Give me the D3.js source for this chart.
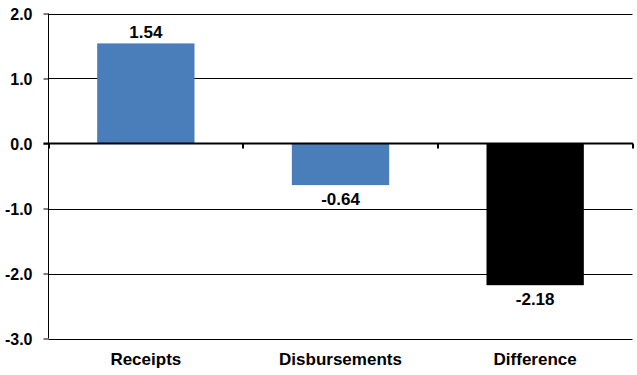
<!DOCTYPE html>
<html lang="en">
<head>
<meta charset="utf-8">
<title>Receipts vs Disbursements</title>
<script src="https://d3js.org/d3.v7.min.js"></script>
<style>
  body { margin: 0; background: #fff; }
  text { font-family: Arial, "Liberation Sans", sans-serif; font-weight: bold; fill: #000; }
</style>
</head>
<body>
<script>
// chart data
const categories = ["Receipts", "Disbursements", "Difference"];
const values = [1.54, -0.64, -2.18];
const barColors = ["#4a7ebb", "#4a7ebb", "#000000"];
const yTicks = [-3, -2, -1, 0, 1, 2];

const width = 637, height = 375;
const plotLeft = 48.5, plotRight = 632.5, plotTop = 13.5, plotBottom = 338.5;

const svg = d3.select("body").append("svg")
  .attr("width", width)
  .attr("height", height);

const x = d3.scaleBand().domain(categories).range([plotLeft, plotRight])
  .paddingInner(0.5).paddingOuter(0.25);
const y = d3.scaleLinear().domain([-3, 2]).range([plotBottom, plotTop]);

// gridlines
svg.append("g").selectAll("line")
  .data(yTicks.filter(d => d !== 0))
  .enter().append("line")
  .attr("x1", plotLeft).attr("x2", plotRight)
  .attr("y1", d => Math.round(y(d)) + 0.5).attr("y2", d => Math.round(y(d)) + 0.5)
  .attr("stroke", "#000").attr("stroke-width", 1);

// y axis (hyphen instead of unicode minus, like the original)
const yAxis = d3.axisLeft(y).tickValues(yTicks).tickSize(5)
  .tickFormat(d => d.toFixed(1));
const gy = svg.append("g").attr("transform", "translate(" + plotLeft + ",0)").call(yAxis);
gy.select(".domain").remove();
gy.selectAll(".tick line").attr("stroke", "#000");
gy.selectAll(".tick text").attr("font-size", 16).attr("x", -16).attr("dy", "0.36em")
  .style("font-family", "Arial, 'Liberation Sans', sans-serif").style("font-weight", "bold");
svg.append("line")
  .attr("x1", plotLeft).attr("x2", plotLeft).attr("y1", plotTop).attr("y2", plotBottom)
  .attr("stroke", "#000");

// bars
svg.append("g").selectAll("rect")
  .data(values)
  .enter().append("rect")
  .attr("x", (d, i) => x(categories[i]))
  .attr("width", x.bandwidth())
  .attr("y", d => y(Math.max(0, d)))
  .attr("height", d => Math.abs(y(d) - y(0)))
  .attr("fill", (d, i) => barColors[i]);

// zero line with category separators
const zeroY = y(0);
svg.append("line")
  .attr("x1", plotLeft - 5).attr("x2", plotRight + 0.5)
  .attr("y1", zeroY).attr("y2", zeroY)
  .attr("stroke", "#000").attr("stroke-width", 2);
const bounds = categories.map(c => x(c) - x.step() * 0.25).concat([plotRight]);
svg.append("g").selectAll("line")
  .data(bounds)
  .enter().append("line")
  .attr("x1", d => Math.round(d)).attr("x2", d => Math.round(d))
  .attr("y1", zeroY).attr("y2", zeroY + 5)
  .attr("stroke", "#000").attr("stroke-width", 2);

// value labels
svg.append("g").selectAll("text")
  .data(values)
  .enter().append("text")
  .attr("x", (d, i) => x(categories[i]) + x.bandwidth() / 2)
  .attr("y", d => d >= 0 ? y(d) - 5 : y(d) + 20)
  .attr("text-anchor", "middle")
  .attr("font-size", 17)
  .text(d => d.toFixed(2));

// category labels
svg.append("g").selectAll("text")
  .data(categories)
  .enter().append("text")
  .attr("x", d => x(d) + x.bandwidth() / 2)
  .attr("y", 365)
  .attr("text-anchor", "middle")
  .attr("font-size", 17)
  .text(d => d);
</script>
</body>
</html>
